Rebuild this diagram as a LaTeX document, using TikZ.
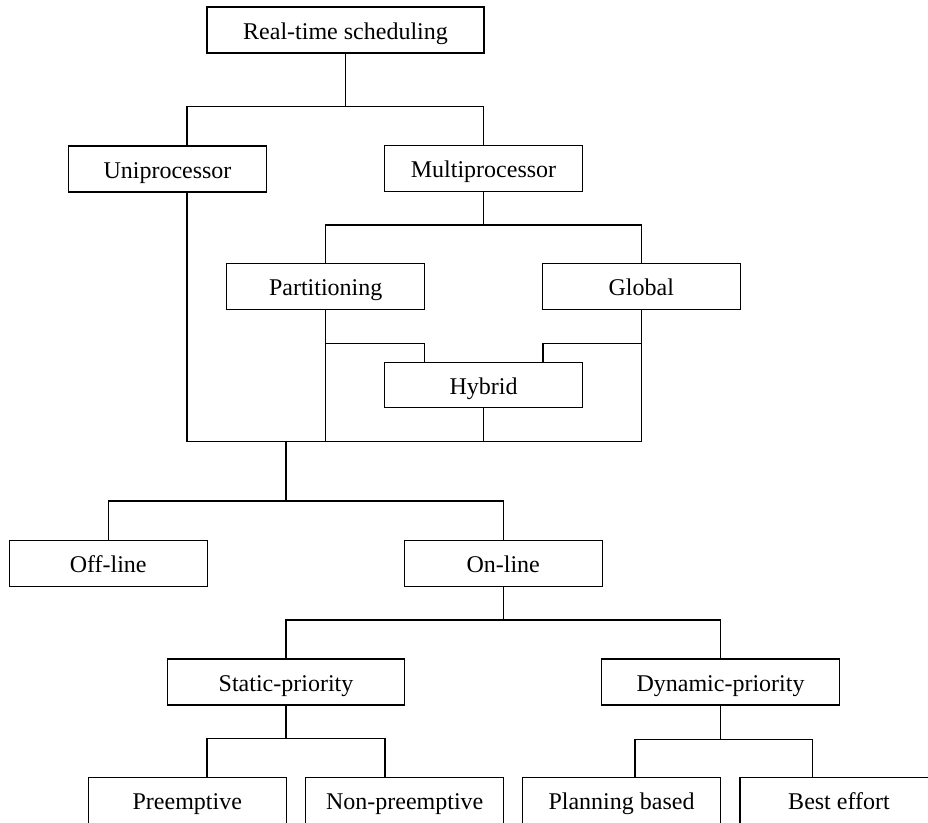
\documentclass[tikz,border=0pt]{standalone}
\usepackage{fontspec}
\setmainfont{Liberation Serif}
\begin{document}
\begin{tikzpicture}[x=1pt,y=-1pt,
  box/.style={draw,line width=1.1pt,inner sep=0pt,minimum height=46pt,
    minimum width=198pt,text height=23pt,text depth=5pt,
    font=\fontsize{24}{28}\selectfont},
  conn/.style={line width=1.1pt}]
\useasboundingbox (0,0) rectangle (928,822);
\clip (0,0) rectangle (928,822);
\node[box,minimum width=277pt] (rts) at (345.5,30) {Real-time scheduling};
\node[box] (uni) at (167.5,169) {Uniprocessor};
\node[box] (multi) at (483.5,168.5) {Multiprocessor};
\node[box] (part) at (325.7,286.5) {Partitioning};
\node[box] (glob) at (641.3,286.5) {Global};
\node[box,minimum height=45pt] (hyb) at (483.5,385) {Hybrid};
\node[box] (off) at (108.2,563.7) {Off-line};
\node[box] (on) at (503.2,563.7) {On-line};
\node[box,minimum width=237.5pt] (stat) at (286,682) {Static-priority};
\node[box,minimum width=237.5pt] (dyn) at (720.5,682) {Dynamic-priority};
\node[box] (pre) at (187.3,800.7) {Preemptive};
\node[box] (non) at (404.7,800.7) {Non-preemptive};
\node[box] (plan) at (621.5,800.7) {Planning based};
\node[box] (best) at (839,800.7) {Best effort};

\coordinate (bar1) at (0,106.7);
\coordinate (bar2) at (0,225);
\coordinate (bar3) at (0,441.7);
\coordinate (bar4) at (0,343.3);
\coordinate (stem) at (286,441.7);
\coordinate (bar5) at (0,501);
\coordinate (bar6) at (0,620);
\coordinate (bar7) at (0,738.5);
\coordinate (bar8) at (0,739.5);

\draw[conn] (rts.south) -- (rts.south |- bar1);
\draw[conn] ([xshift=19.5pt]uni.north) |- (multi.north |- bar1) -- (multi.north);

\draw[conn] (multi.south) -- (multi.south |- bar2);
\draw[conn] (part.north) |- (glob.north |- bar2) -- (glob.north);

\draw[conn] ([xshift=19.5pt]uni.south) -- ([xshift=19.5pt]uni.south |- bar3) -- (glob.south |- bar3) -- (glob.south);
\draw[conn] (part.south) -- (part.south |- bar3);
\draw[conn] (hyb.south) -- (hyb.south |- bar3);
\draw[conn] (part.south |- bar4) -| ([xshift=-59.2pt]hyb.north);
\draw[conn] (glob.south |- bar4) -| ([xshift=59.5pt]hyb.north);

\draw[conn] (stem) -- (stem |- bar5);
\draw[conn] (off.north) |- (on.north |- bar5) -- (on.north);

\draw[conn] (on.south) -- (on.south |- bar6);
\draw[conn] (stat.north) |- (dyn.north |- bar6) -- (dyn.north);

\draw[conn] (stat.south) -- (stat.south |- bar7);
\draw[conn] ([xshift=19.7pt]pre.north) |- ([xshift=-19.7pt]non.north |- bar7) -- ([xshift=-19.7pt]non.north);

\draw[conn] (dyn.south) -- (dyn.south |- bar8);
\draw[conn] ([xshift=13.5pt]plan.north) |- ([xshift=-26.3pt]best.north |- bar8) -- ([xshift=-26.3pt]best.north);
\end{tikzpicture}
\end{document}
